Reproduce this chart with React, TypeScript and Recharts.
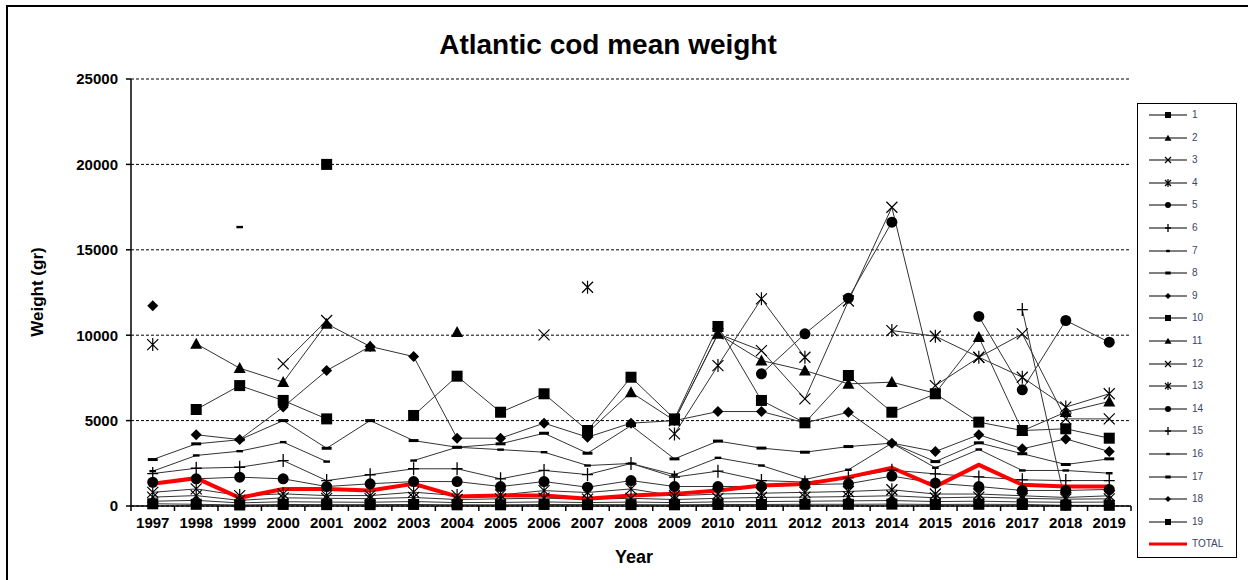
import React from "react";
import { LineChart, Line, XAxis, YAxis, CartesianGrid } from "recharts";

const YEARS = [
  "1997", "1998", "1999", "2000", "2001", "2002", "2003", "2004", "2005", "2006", "2007", "2008",
  "2009", "2010", "2011", "2012", "2013", "2014", "2015", "2016", "2017", "2018", "2019",
];

const Y_TICKS = [0, 5000, 10000, 15000, 20000, 25000];

// mean weight (gr) per age group
const AGE1 = [130, 100, 60, 90, 80, 80, 90, 70, 70, 90, 80, 80, 70, 90, 90, 100, 100, 110, 90, 100, 90, 40, 40];
const AGE2 = [280, 330, 180, 250, 230, 220, 260, 200, 210, 240, 200, 230, 200, 240, 260, 280, 300, 320, 260, 280, 240, 220, 230];
const AGE3 = [520, 610, 330, 480, 450, 430, 500, 380, 420, 460, 400, 450, 380, 450, 500, 520, 550, 600, 480, 520, 450, 400, 420];
const AGE4 = [800, 1000, 610, 710, 610, 610, 810, 610, 650, 900, 790, 1000, 600, 700, 750, 800, 850, 950, 700, 700, 600, 500, 600];
const AGE5 = [1390, 1590, 1690, 1590, 1140, 1300, 1430, 1430, 1140, 1430, 1100, 1490, 1140, 1140, 1150, 1250, 1300, 1750, 1340, 1140, 910, 910, 970];
const AGE6 = [1900, 2210, 2270, 2660, 1490, 1830, 2180, 2180, 1590, 2080, 1840, 2490, 1690, 2040, 1490, 1400, 1650, 2100, 1880, 1700, 1530, 1490, 1490];
const AGE7 = [2040, 2960, 3210, 3740, 2600, null, 2660, 3440, 3300, 3150, 2370, 2490, 1830, 2820, 2370, 1550, 2120, 3680, 2240, 3310, 2080, 2080, 1920];
const AGE8 = [2720, 3640, 3880, 5000, 3380, 5000, 3830, 3440, 3640, 4260, 3090, 4710, 2760, 3800, 3390, 3150, 3480, 3680, 2600, 3700, 3060, 2430, 2760];
const AGE9 = [null, 4170, 3890, 5790, 7930, 9340, 8750, 3970, 3970, 4850, 4030, 4850, 5000, 5530, 5530, 4870, 5490, 3680, 3190, 4170, 3350, 3930, 3190];
const AGE10 = [null, 5650, 7050, 6180, 5100, null, 5300, 7600, 5490, 6570, 4420, 7540, 5100, 10510, 6180, 4870, 7640, 5490, 6570, 4910, 4420, 4520, 3970];
const AGE11 = [null, 9500, 8070, 7250, 10670, 9340, null, 10180, null, null, 4300, 6660, 5000, 10080, 8520, 7930, 7150, 7250, 6600, 9890, 4400, 5500, 6120];
const AGE12 = [null, null, null, 8320, 10860, null, null, null, null, 10020, null, null, 5000, 10080, 9100, 6270, 12000, 17490, 7050, 8700, 10080, 5100, 5100];
const AGE13 = [9450, null, null, null, null, null, null, null, null, null, 12810, null, 4220, 8220, 12130, 8710, null, 10270, 9940, 8710, 7540, 5790, 6570];
const AGE14 = [null, null, null, null, null, null, null, null, null, null, null, null, null, null, 7740, 10080, 12170, 16620, null, 11100, 6800, 10860, 9590];
const AGE15 = [null, null, null, null, null, null, null, null, null, null, null, null, null, null, null, null, null, null, null, null, 11500, 100, null];
const AGE16 = [null, null, 16330, null, null, null, null, null, null, null, null, null, null, null, null, null, null, null, null, null, null, null, null];
const AGE17 = [null, null, null, null, null, null, null, null, null, null, null, null, null, null, null, null, null, null, null, null, null, null, null];
const AGE18 = [11720, null, null, null, null, null, null, null, null, null, null, null, null, null, null, null, null, null, null, null, null, null, null];
const AGE19 = [null, null, null, null, 20000, null, null, null, null, null, null, null, null, null, null, null, null, null, null, null, null, null, null];
const TOTAL = [1300, 1630, 480, 1000, 1000, 910, 1300, 560, 610, 610, 420, 610, 710, 910, 1200, 1290, 1690, 2240, 1140, 2410, 1240, 1140, 1140];

const AGES = [AGE1, AGE2, AGE3, AGE4, AGE5, AGE6, AGE7, AGE8, AGE9, AGE10, AGE11, AGE12, AGE13, AGE14, AGE15, AGE16, AGE17, AGE18, AGE19];
const NAMES = ["1", "2", "3", "4", "5", "6", "7", "8", "9", "10", "11", "12", "13", "14", "15", "16", "17", "18", "19"];
// excel marker cycle
const KINDS = ["square", "triangle", "x", "star", "circle", "plus", "tick", "dash", "diamond"];

const data = YEARS.map((year, i) => {
  const row: any = { i, year, total: TOTAL[i] };
  AGES.forEach((arr, k) => (row["a" + (k + 1)] = arr[i]));
  return row;
});

const X_TICKS: number[] = [];
for (let t = -0.5; t <= 22.5; t += 0.5) X_TICKS.push(t);

const FONT = "Arial, 'Liberation Sans', sans-serif";

function Marker({ kind, cx, cy, s }: { kind: string; cx: number; cy: number; s: number }) {
  const h = s / 2;
  switch (kind) {
    case "square":
      return <rect x={cx - h} y={cy - h} width={s} height={s} fill="#000" />;
    case "triangle":
      return <polygon points={`${cx},${cy - s * 0.55} ${cx - h - 0.5},${cy + s * 0.45} ${cx + h + 0.5},${cy + s * 0.45}`} fill="#000" />;
    case "x":
      return <path d={`M${cx - h},${cy - h}L${cx + h},${cy + h}M${cx - h},${cy + h}L${cx + h},${cy - h}`} stroke="#000" strokeWidth={1.2} fill="none" />;
    case "star":
      return <path d={`M${cx - h},${cy - h}L${cx + h},${cy + h}M${cx - h},${cy + h}L${cx + h},${cy - h}M${cx},${cy - h - 1}L${cx},${cy + h + 1}`} stroke="#000" strokeWidth={1.2} fill="none" />;
    case "circle":
      return <circle cx={cx} cy={cy} r={h} fill="#000" />;
    case "plus":
      return <path d={`M${cx - h},${cy}L${cx + h},${cy}M${cx},${cy - h - 1}L${cx},${cy + h + 1}`} stroke="#000" strokeWidth={1.3} fill="none" />;
    case "tick":
      return <rect x={cx - s * 0.3} y={cy - 1.2} width={s * 0.6} height={2.4} fill="#000" />;
    case "dash":
      return <rect x={cx - s * 0.45} y={cy - 1.5} width={s * 0.9} height={3} fill="#000" />;
    case "diamond":
      return <polygon points={`${cx},${cy - h} ${cx + h},${cy} ${cx},${cy + h} ${cx - h},${cy}`} fill="#000" />;
    default:
      return null;
  }
}

const makeDot = (kind: string) => (props: any) => {
  const { cx, cy, value, index } = props;
  if (value == null || cx == null || cy == null) return <g key={index} />;
  return (
    <g key={index}>
      <Marker kind={kind} cx={cx} cy={cy} s={11} />
    </g>
  );
};

function YearTick(props: any) {
  const { x, y, payload } = props;
  const v = payload.value;
  if (Number.isInteger(v)) {
    return (
      <text x={x} y={y + 22} textAnchor="middle" fontFamily={FONT} fontWeight="bold" fontSize={15} fill="#000">
        {YEARS[v]}
      </text>
    );
  }
  return <line x1={x} x2={x} y1={y} y2={y + 5} stroke="#000" strokeWidth={1.5} />;
}

function LegendBox() {
  const items = [...NAMES.map((n, k) => ({ name: n, kind: KINDS[k % 9], red: false })), { name: "TOTAL", kind: "", red: true }];
  return (
    <div
      style={{
        position: "absolute",
        left: 1137,
        top: 103,
        width: 100,
        height: 455,
        border: "1.5px solid #000",
        background: "#fff",
        boxSizing: "border-box",
      }}
    >
      {items.map((it, k) => (
        <div key={it.name} style={{ position: "absolute", left: 0, top: 4 + k * 22.6, height: 14, width: 100 }}>
          <svg width={44} height={14} style={{ position: "absolute", left: 8, top: 0 }}>
            {it.red ? (
              <line x1={3} x2={41} y1={7} y2={7} stroke="#ff0000" strokeWidth={3} />
            ) : (
              <>
                <line x1={3} x2={41} y1={7} y2={7} stroke="#000" strokeWidth={1.2} />
                <Marker kind={it.kind} cx={22} cy={7} s={6} />
              </>
            )}
          </svg>
          <span
            style={{
              position: "absolute",
              left: 54,
              top: 0,
              lineHeight: "14px",
              fontSize: 10,
              fontFamily: FONT,
              color: "#3a4466",
            }}
          >
            {it.name}
          </span>
        </div>
      ))}
    </div>
  );
}

export default function App() {
  return (
    <div style={{ position: "absolute", left: 0, top: 0, width: 1248, height: 580, background: "#fff", overflow: "hidden" }}>
      <div style={{ position: "absolute", left: 6, top: 5, width: 1300, height: 700, borderLeft: "2px solid #000", borderTop: "2px solid #000" }} />
      <div
        style={{
          position: "absolute",
          left: 0,
          width: 1216,
          top: 29,
          textAlign: "center",
          fontFamily: FONT,
          fontWeight: "bold",
          fontSize: 28,
          lineHeight: "32px",
        }}
      >
        Atlantic cod mean weight
      </div>
      <div
        style={{
          position: "absolute",
          left: 38,
          top: 292,
          transform: "translate(-50%, -50%) rotate(-90deg)",
          fontFamily: FONT,
          fontWeight: "bold",
          fontSize: 17,
          whiteSpace: "nowrap",
        }}
      >
        Weight (gr)
      </div>
      <div
        style={{
          position: "absolute",
          left: 634,
          top: 557,
          transform: "translate(-50%, -50%)",
          fontFamily: FONT,
          fontWeight: "bold",
          fontSize: 18,
          whiteSpace: "nowrap",
        }}
      >
        Year
      </div>
      <div style={{ position: "absolute", left: 0, top: 0 }}>
        <LineChart width={1136} height={580} data={data} margin={{ top: 79, right: 5, left: 0, bottom: 44 }}>
          <CartesianGrid vertical={false} stroke="#000" strokeDasharray="3 2" strokeWidth={1} />
          <XAxis
            dataKey="i"
            type="number"
            domain={[-0.5, 22.5]}
            ticks={X_TICKS}
            interval={0}
            tickSize={0}
            tickMargin={0}
            tick={<YearTick />}
            height={30}
            axisLine={{ stroke: "#000", strokeWidth: 1.5 }}
          />
          <YAxis
            domain={[0, 25000]}
            ticks={Y_TICKS}
            interval={0}
            width={131}
            tickSize={5}
            tickMargin={8}
            axisLine={{ stroke: "#000", strokeWidth: 1.5 }}
            tickLine={{ stroke: "#000", strokeWidth: 1.5 }}
            tick={{ fill: "#000", fontSize: 15, fontWeight: "bold", fontFamily: FONT }}
          />
          {AGES.map((_, k) => (
            <Line
              key={k}
              dataKey={"a" + (k + 1)}
              name={NAMES[k]}
              stroke="#333"
              strokeWidth={1}
              dot={makeDot(KINDS[k % 9])}
              activeDot={false}
              connectNulls={false}
              isAnimationActive={false}
            />
          ))}
          <Line dataKey="total" name="TOTAL" stroke="#ff0000" strokeWidth={4} dot={false} activeDot={false} isAnimationActive={false} />
        </LineChart>
      </div>
      <LegendBox />
    </div>
  );
}
